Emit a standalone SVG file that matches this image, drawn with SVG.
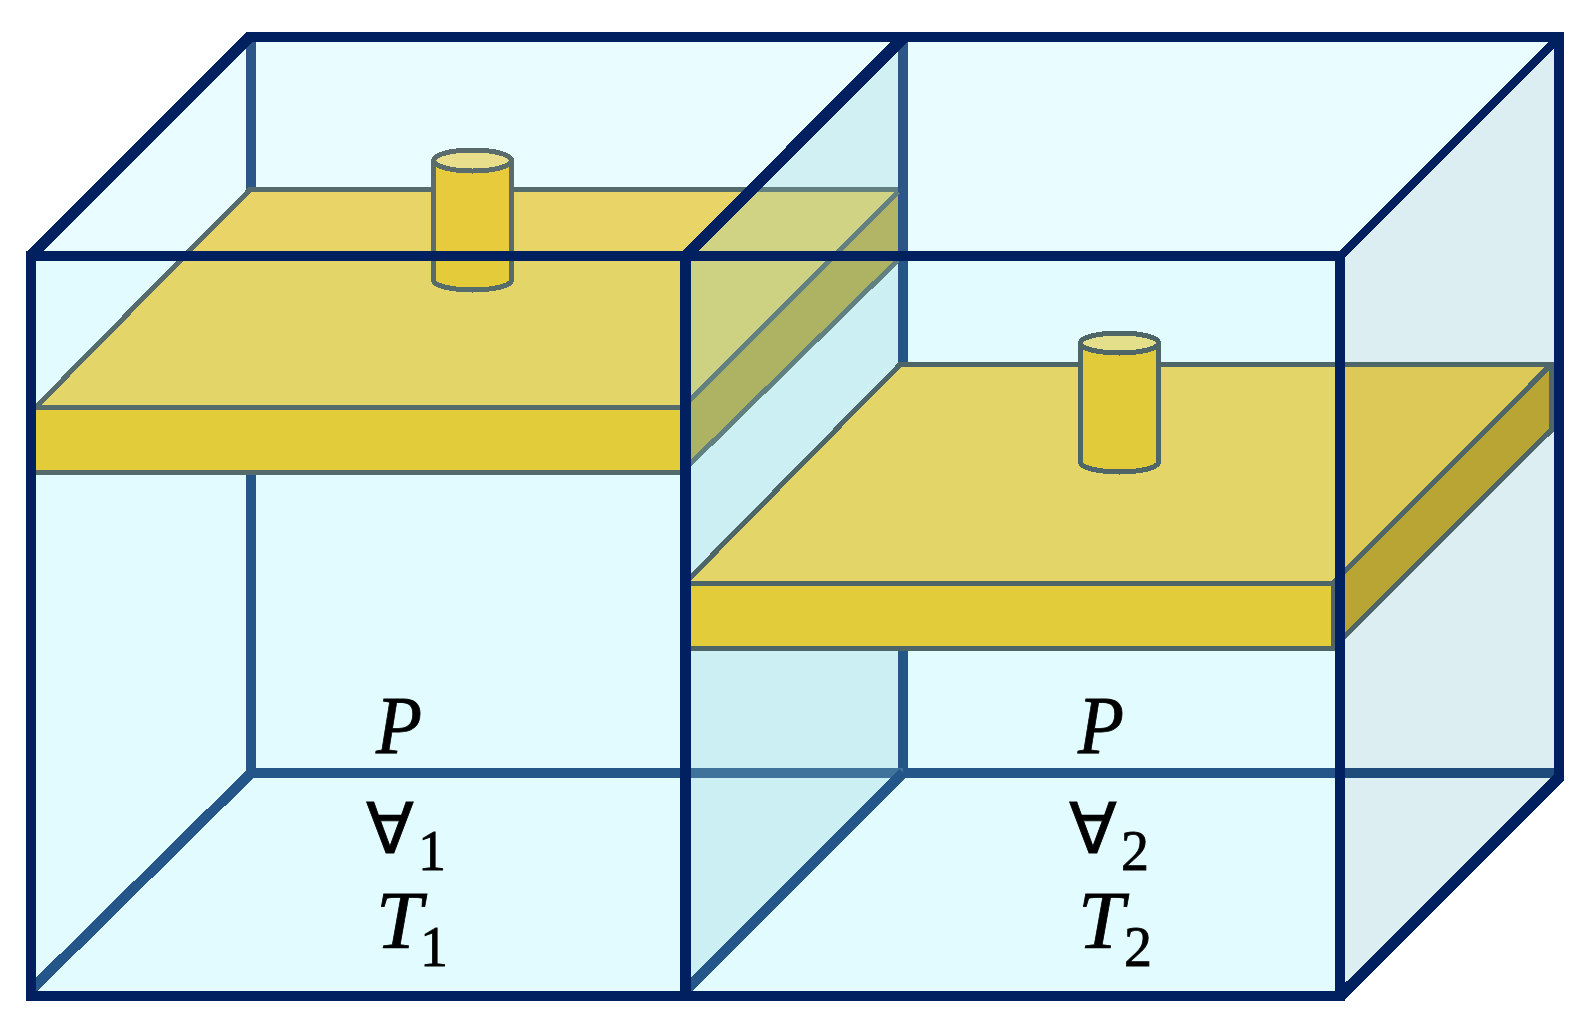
<svg xmlns="http://www.w3.org/2000/svg" width="1589" height="1030" viewBox="0 0 1589 1030">
<style>
polygon,path,rect,ellipse{shape-rendering:crispEdges}
.ln{fill:none;stroke-width:5;stroke:#566B6C}
.lw{fill:none;stroke-width:5;stroke:#628080}
.lr{fill:none;stroke-width:5;stroke:#4F6668}
.bk{fill:none;stroke-width:10}
.nv{fill:none;stroke:#012060;stroke-width:10}
.nf{fill:#012060}
.m{font-family:"Liberation Serif",serif;font-style:italic;font-size:83px;fill:#000;stroke:#000;stroke-width:.8}
.s{font-family:"Liberation Serif",serif;font-size:56px;fill:#000;stroke:#000;stroke-width:.8}
.fa{font-family:"DejaVu Sans",sans-serif;font-size:70px;fill:#000;stroke:#000;stroke-width:.8}
</style>
<defs>
<clipPath id="above"><rect x="0" y="0" width="1589" height="256"/></clipPath>
</defs>
<rect width="1589" height="1030" fill="#fff"/>
<g id="box-faces">
<polygon points="31,256 251,37 1559,37 1340,256" fill="#E9FCFF"/>
<rect x="31" y="256" width="1309" height="740" fill="#E1FBFE"/>
<polygon points="685.5,256 903,37 903,256" fill="#D1F0F3"/>
<polygon points="685.5,256 903,256 903,773 685.5,996" fill="#CCEFF3"/>
<polygon points="1340,256 1559,37 1559,776 1340,996" fill="#DCEEF1"/>
</g>
<g id="back-edges">
<path class="bk" stroke="#2B5687" d="M251,37V256M903,37V256"/>
<path class="bk" stroke="#25568A" d="M251,256V773M903,256V773M246,773H685"/>
<path class="bk" stroke="#25568A" d="M903,773H1340"/>
<path class="bk" stroke="#3F739B" d="M685,773H903"/>
<path class="bk" stroke="#1F4A7C" d="M1340,773H1556"/>
<path fill="none" stroke-width="10.5" stroke="#25568A" d="M251,773L31,990M903,773L685,991"/>
</g>
<g id="piston-1">
<polygon points="250,189.5 751,189.5 685,256 185,256" fill="#E9D567"/>
<polygon points="185,256 685,256 685,407.5 36,407.5" fill="#E4D568"/>
<polygon points="751,189.5 898,189.5 834,256 685,256" fill="#D1D384"/>
<polygon points="685,256 834,256 685,405" fill="#CCD282"/>
<polygon points="834,256 898,192 898,256" fill="#B2B565"/>
<polygon points="685,405 834,256 898,256 898,260 685,469" fill="#ADB363"/>
<path class="ln" d="M36,407 L250,189.5 H751"/>
<path class="lw" d="M751,189.5 H898 M685,405 L898,192 M685,469 L898,260"/>
<rect x="36" y="407.5" width="644" height="65" fill="#E2CC3A"/>
<path class="ln" d="M36,407.5 H680 M36,472.5 H680"/>
</g>
<g id="rod-1">
<path d="M433.5,160.5 A39,10.5 0 0 1 511.5,160.5 V280 A39,10 0 0 1 433.5,280 Z" class="ln" style="fill:#E3CB3A"/>
<g clip-path="url(#above)"><path d="M433.5,160.5 A39,10.5 0 0 1 511.5,160.5 V280 A39,10 0 0 1 433.5,280 Z" style="fill:#E8CB3C;stroke:#5A6C6C;stroke-width:5"/></g>
<ellipse cx="472.5" cy="160.5" rx="39" ry="10.5" style="fill:#E9DE8B;stroke:#5A6C6C;stroke-width:5"/>
</g>
<g id="piston-2">
<polygon points="900,364.5 1340,364.5 1340,583.5 685,583.5" fill="#E4D568"/>
<polygon points="1340,364.5 1551,364.5 1340,575" fill="#DDC957"/>
<polygon points="1340,575 1551,364.5 1551,430 1340,641" fill="#B8A533"/>
<path class="lr" d="M685,583 L900,364.5 H1554 M1551.5,364.5 V430 L1333,648 M1551,364.5 L1333,583"/>
<rect x="685" y="583.5" width="648" height="65" class="lr" style="fill:#E2CC3A"/>
</g>
<g id="rod-2">
<path class="lr" style="fill:#E2CB3A" d="M1080.5,343 A39,10 0 0 1 1158.5,343 V462 A39,10 0 0 1 1080.5,462 Z"/>
<ellipse class="lr" style="fill:#E4DF8A" cx="1119.5" cy="343" rx="39" ry="10"/>
</g>
<g id="box-edges">
<rect class="nv" x="31" y="256" width="1309" height="740"/>
<path class="nv" d="M246,37 H1559 V780"/>
<polygon class="nf" points="26,253 246,32 262,32 43,251 43,261 26,261"/>
<polygon class="nf" points="683,251 890,42 907,42 699,251"/>
<polygon class="nf" points="1339,251 1548,42 1554,42 1554,48 1345,257 1335,257"/>
<polygon class="nf" points="1554,775 1564,775 1564,780 1343,1001 1335,1001 1335,992 1345,983"/>
<path class="nv" style="stroke-width:11" d="M685.5,251 V1001"/>
</g>
<g id="labels">
<text class="m" x="376" y="753" textLength="46" lengthAdjust="spacingAndGlyphs">P</text>
<text class="fa" x="366" y="853">∀</text>
<text class="s" x="418" y="870">1</text>
<text class="m" x="376" y="948">T</text>
<text class="s" x="420" y="966">1</text>
<text class="m" x="1078" y="753" textLength="46" lengthAdjust="spacingAndGlyphs">P</text>
<text class="fa" x="1069" y="853">∀</text>
<text class="s" x="1121" y="870">2</text>
<text class="m" x="1078" y="948">T</text>
<text class="s" x="1124" y="966">2</text>
</g>
</svg>
